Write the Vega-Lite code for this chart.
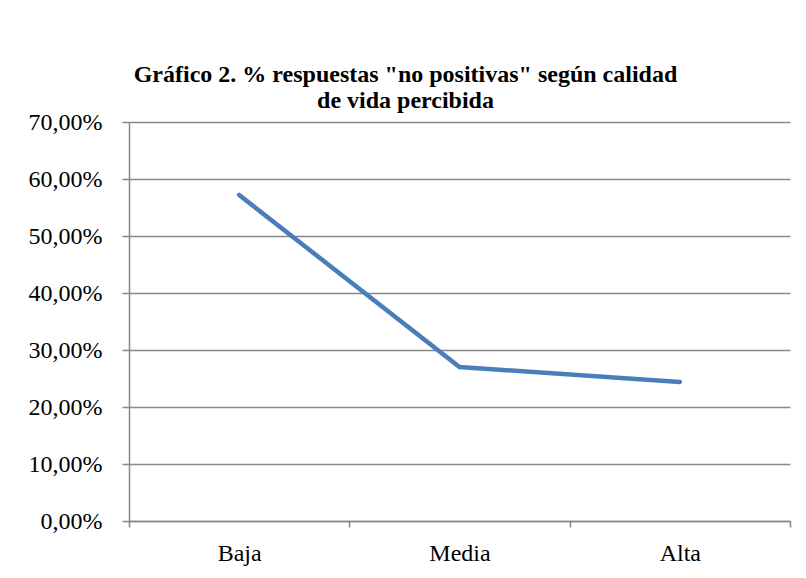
{
  "$schema": "https://vega.github.io/schema/vega-lite/v6.json",
  "autosize": "none",
  "width": 661,
  "height": 399,
  "padding": {"left": 129, "top": 122, "right": 16, "bottom": 57},
  "background": "white",
  "config": {
    "locale": {"number": {"decimal": ",", "thousands": ".", "grouping": [3], "currency": ["", " €"]}},
    "view": {"stroke": null},
    "font": "'Liberation Serif', 'Times New Roman', serif"
  },
  "title": {
    "text": ["Gráfico 2. % respuestas \"no positivas\" según calidad", "de vida percibida"],
    "font": "'Liberation Serif', 'Times New Roman', serif",
    "fontSize": 24,
    "fontWeight": "bold",
    "color": "black",
    "anchor": "middle",
    "frame": "group",
    "baseline": "bottom",
    "lineHeight": 26,
    "offset": -27,
    "dx": -54
  },
  "data": {
    "values": [
      {"calidad": "Baja", "pct": 0.572},
      {"calidad": "Media", "pct": 0.27},
      {"calidad": "Alta", "pct": 0.244}
    ]
  },
  "mark": {"type": "line", "color": "#4A7EBB", "strokeWidth": 4.5, "strokeCap": "round", "strokeJoin": "miter"},
  "encoding": {
    "x": {
      "field": "calidad",
      "type": "nominal",
      "sort": ["Baja", "Media", "Alta"],
      "scale": {"paddingInner": 0, "paddingOuter": 0},
      "axis": {
        "title": null,
        "labelAngle": 0,
        "labelFont": "'Liberation Serif', 'Times New Roman', serif",
        "labelFontSize": 24,
        "labelColor": "black",
        "labelPadding": 14,
        "tickBand": "extent",
        "tickSize": 6,
        "tickColor": "#878787",
        "tickWidth": 1.5,
        "domainColor": "#878787",
        "domainWidth": 1.5,
        "grid": false
      }
    },
    "y": {
      "field": "pct",
      "type": "quantitative",
      "scale": {"domain": [0, 0.7], "nice": false},
      "axis": {
        "title": null,
        "format": ".2%",
        "values": [0, 0.1, 0.2, 0.3, 0.4, 0.5, 0.6, 0.7],
        "labelFont": "'Liberation Serif', 'Times New Roman', serif",
        "labelFontSize": 24,
        "labelColor": "black",
        "labelPadding": 20,
        "tickSize": 7,
        "tickColor": "#878787",
        "tickWidth": 1.5,
        "domainColor": "#878787",
        "domainWidth": 1.5,
        "grid": true,
        "gridColor": "#878787",
        "gridWidth": 1.5
      }
    }
  }
}
